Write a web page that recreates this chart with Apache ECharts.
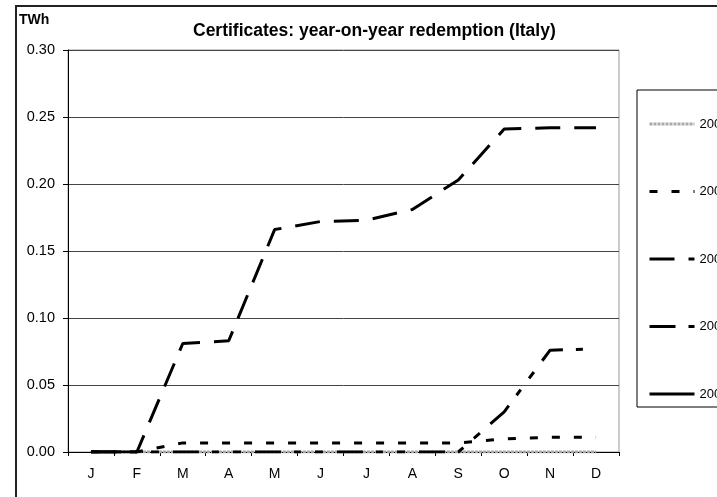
<!DOCTYPE html>
<html>
<head>
<meta charset="utf-8">
<script src="https://cdn.jsdelivr.net/npm/echarts@6/dist/echarts.min.js"></script>
<style>
  html, body { margin: 0; padding: 0; background: #fff; }
  #chart { width: 717px; height: 497px; }
</style>
</head>
<body>
<div id="chart"></div>
<script>
// months (category axis)
const months = ['J', 'F', 'M', 'A', 'M', 'J', 'J', 'A', 'S', 'O', 'N', 'D']
const years = ['2004', '2005', '2006', '2007', '2008']

// TWh redeemed, cumulative by month
const y2004 = [0, 0, 0, 0, 0, 0, 0, 0, 0, 0, 0, 0]
const y2005 = [0, 0, 0.0068, 0.0068, 0.0068, 0.0068, 0.0068, 0.0068, 0.0068, 0.0098, 0.011, 0.011]
const y2006 = [0, 0, 0.081, 0.083, 0.166, 0.172, 0.173, 0.181, 0.203, 0.241, 0.242, 0.242]
const y2007 = [0, 0, 0, 0, 0, 0, 0, 0, 0, 0.030, 0.076, 0.077]
const y2008 = [0, 0, null, null, null, null, null, null, null, null, null, null]

const yTicks = [0, 0.05, 0.10, 0.15, 0.20, 0.25, 0.30]

const FONT = 'Liberation Sans, Arial, sans-serif'

const chart = echarts.init(document.getElementById('chart'), null, { renderer: 'canvas' })

function line(name, data, color, dash) {
  return {
    name,
    type: 'line',
    data,
    symbol: 'none',
    animation: false,
    lineStyle: { color, width: 3, type: dash, cap: 'butt' },
    itemStyle: { color },
  }
}

chart.setOption({
  backgroundColor: '#fff',
  animation: false,
  title: {
    text: 'Certificates: year-on-year redemption (Italy)',
    left: 193,
    top: 22,
    padding: 0,
    textStyle: { fontFamily: FONT, fontSize: 17.5, fontWeight: 'bold', color: '#000' }
  },
  graphic: [
    {
      type: 'rect',
      shape: { x: 16, y: 6, width: 760, height: 560 },
      style: { fill: 'none', stroke: '#222', lineWidth: 2 },
      z: -1
    },
    {
      type: 'text',
      left: 19,
      top: 13,
      style: { text: 'TWh', font: 'bold 14px ' + FONT, fill: '#000' }
    }
  ],
  legend: {
    orient: 'vertical',
    left: 637,
    top: 90,
    padding: [26, 60, 5, 11],
    itemGap: 51.5,
    itemWidth: 45,
    itemHeight: 14,
    borderColor: '#000',
    borderWidth: 1,
    backgroundColor: '#fff',
    itemStyle: { color: 'transparent', borderWidth: 0, opacity: 0 },
    lineStyle: { width: 3 },
    textStyle: { fontFamily: FONT, fontSize: 13, color: '#000', lineHeight: 16 },
    data: years
  },
  grid: {
    left: 68,
    right: 98,
    top: 50,
    bottom: 45,
    show: true,
    borderColor: '#999',
    borderWidth: 1
  },
  xAxis: {
    type: 'category',
    data: months,
    boundaryGap: true,
    axisLine: { lineStyle: { color: '#000', width: 1 } },
    axisTick: { show: true, length: 4, lineStyle: { color: '#000' } },
    axisLabel: { fontFamily: FONT, fontSize: 14, color: '#000', margin: 15 },
    splitLine: { show: false }
  },
  yAxis: {
    type: 'value',
    min: 0,
    max: 0.3,
    interval: 0.05,
    axisLine: { show: true, lineStyle: { color: '#000', width: 1 } },
    axisTick: { show: true, length: 5, lineStyle: { color: '#000' } },
    axisLabel: {
      fontFamily: FONT, fontSize: 14.5, color: '#000', margin: 13,
      formatter: v => yTicks.includes(+v.toFixed(2)) ? v.toFixed(2) : ''
    },
    splitLine: { show: true, lineStyle: { color: '#444', width: 1 } }
  },
  series: [
    line('2004', y2004, '#a8a8a8', [3, 1]),
    line('2005', y2005, '#000', [8, 14]),
    line('2006', y2006, '#000', [25, 14]),
    line('2007', y2007, '#000', [26, 13, 7, 14, 8, 14]),
    line('2008', y2008, '#000', 'solid')
  ]
})
</script>
</body>
</html>
